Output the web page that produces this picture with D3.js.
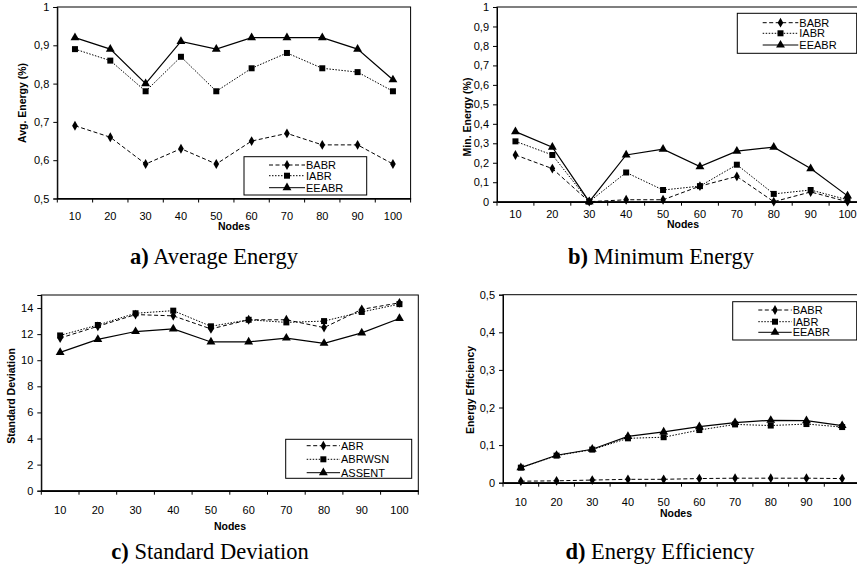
<!DOCTYPE html>
<html>
<head>
<meta charset="utf-8">
<script src="https://cdn.jsdelivr.net/npm/d3@7"></script>
<style>
  body { margin: 0; background: #fff; }
  svg { display: block; }
  .tick text { font-family: "Liberation Sans", Arial, sans-serif; }
</style>
</head>
<body>
<div id="chart"></div>
<script>
// node counts on every x axis
var nodes = ["10", "20", "30", "40", "50", "60", "70", "80", "90", "100"];

// a) Average Energy
var avgBABR  = [0.69, 0.66, 0.59, 0.63, 0.59, 0.65, 0.67, 0.64, 0.64, 0.59];
var avgIABR  = [0.89, 0.86, 0.78, 0.87, 0.78, 0.84, 0.88, 0.84, 0.83, 0.78];
var avgEEABR = [0.92, 0.89, 0.80, 0.91, 0.89, 0.92, 0.92, 0.92, 0.89, 0.81];

// b) Minimum Energy
var minBABR  = [0.24, 0.17, 0, 0.01, 0.01, 0.08, 0.13, 0, 0.05, 0];
var minIABR  = [0.31, 0.24, 0, 0.15, 0.06, 0.08, 0.19, 0.04, 0.06, 0.01];
var minEEABR = [0.36, 0.28, 0, 0.24, 0.27, 0.18, 0.26, 0.28, 0.17, 0.03];

// c) Standard Deviation
var sdABR    = [11.7, 12.6, 13.5, 13.4, 12.4, 13.1, 13.1, 12.5, 13.9, 14.4];
var sdABRWSN = [11.9, 12.7, 13.6, 13.8, 12.6, 13.1, 12.9, 13.0, 13.7, 14.3];
var sdASSENT = [10.6, 11.6, 12.2, 12.4, 11.4, 11.4, 11.7, 11.3, 12.1, 13.2];

// d) Energy Efficiency
var effBABR  = [0.004, 0.005, 0.007, 0.009, 0.009, 0.011, 0.012, 0.012, 0.012, 0.011];
var effIABR  = [0.040, 0.072, 0.088, 0.118, 0.121, 0.140, 0.155, 0.152, 0.156, 0.148];
var effEEABR = [0.040, 0.073, 0.089, 0.123, 0.135, 0.149, 0.160, 0.166, 0.165, 0.152];

var ticksA = [0.5, 0.6, 0.7, 0.8, 0.9, 1];
var ticksB = [0, 0.1, 0.2, 0.3, 0.4, 0.5, 0.6, 0.7, 0.8, 0.9, 1];
var ticksC = [0, 2, 4, 6, 8, 10, 12, 14];
var ticksD = [0, 0.1, 0.2, 0.3, 0.4, 0.5];

var svg = d3.select("#chart")
  .append("svg")
  .attr("width", 857)
  .attr("height", 569);

var styles = [
  { dash: "4,2.5", symbol: d3.symbolDiamond, size: 28 },
  { dash: "1.5,1.5", symbol: d3.symbolSquare, size: 36 },
  { dash: null, symbol: d3.symbolTriangle, size: 34 }
];

function commaFormat(d) {
  return String(+d.toFixed(1)).replace(".", ",");
}

function drawPanel(p) {
  var width = p.right - p.left;
  var height = p.bottom - p.top;

  var g = svg.append("g")
    .attr("transform", `translate(${p.left}, ${p.top})`);

  var x = d3.scaleBand()
    .domain(nodes)
    .range([0, width]);

  var y = d3.scaleLinear()
    .domain(p.domain)
    .range([height, 0]);

  // frame
  g.append("rect")
    .attr("width", width)
    .attr("height", height)
    .attr("fill", "none")
    .attr("stroke", "#000")
    .attr("stroke-width", 1);

  // y axis
  var yAxis = g.append("g")
    .call(d3.axisLeft(y).tickValues(p.ticks).tickFormat(p.format).tickSize(4).tickPadding(4));
  yAxis.select(".domain").attr("stroke", "#000");
  yAxis.selectAll("text").attr("font-size", "11px").attr("fill", "#000");

  // x axis, ticks at the band edges
  var xAxis = g.append("g")
    .attr("transform", `translate(0, ${height})`)
    .call(d3.axisBottom(x).tickSize(0).tickPadding(p.labelGap));
  xAxis.select(".domain").attr("stroke-width", 1.5);
  xAxis.selectAll("text").attr("font-size", "11px").attr("fill", "#000");

  xAxis.selectAll(".edge")
    .data(nodes.concat(["end"]))
    .enter()
    .append("line")
    .attr("x1", (d, i) => i * x.bandwidth())
    .attr("x2", (d, i) => i * x.bandwidth())
    .attr("y1", 0)
    .attr("y2", 4)
    .attr("stroke", "#000");

  // series
  var line = d3.line()
    .x((d, i) => x(nodes[i]) + x.bandwidth() / 2)
    .y(d => y(d));

  p.series.forEach(function(values, k) {
    var st = styles[k];
    g.append("path")
      .datum(values)
      .attr("d", line)
      .attr("fill", "none")
      .attr("stroke", "#000")
      .attr("stroke-width", k == 2 ? 1.2 : 1)
      .attr("stroke-dasharray", st.dash);

    g.selectAll(".m" + k)
      .data(values)
      .enter()
      .append("path")
      .attr("class", "m" + k)
      .attr("d", d3.symbol().type(st.symbol).size(st.size))
      .attr("transform", (d, i) => `translate(${x(nodes[i]) + x.bandwidth() / 2}, ${y(d)})`)
      .attr("fill", "#000");
  });

  // legend
  var lg = svg.append("g")
    .attr("transform", `translate(${p.legend.x}, ${p.legend.y})`);
  lg.append("rect")
    .attr("width", p.legend.w)
    .attr("height", p.legend.h)
    .attr("fill", "#fff")
    .attr("stroke", "#000");

  p.names.forEach(function(name, k) {
    var st = styles[k];
    var ly = p.legend.rows[k];
    lg.append("line")
      .attr("x1", p.legend.x1)
      .attr("x2", p.legend.x2)
      .attr("y1", ly)
      .attr("y2", ly)
      .attr("stroke", "#000")
      .attr("stroke-dasharray", st.dash);
    lg.append("path")
      .attr("d", d3.symbol().type(st.symbol).size(st.size))
      .attr("transform", `translate(${(p.legend.x1 + p.legend.x2) / 2}, ${ly})`)
      .attr("fill", "#000");
    lg.append("text")
      .attr("x", p.legend.x2 + 1)
      .attr("y", ly + 4)
      .attr("font-family", "Liberation Sans, Arial, sans-serif")
      .attr("font-size", "11px")
      .text(name);
  });

  // axis labels
  svg.append("text")
    .attr("transform", `translate(${p.yLabel.x}, ${p.yLabel.y}) rotate(-90)`)
    .attr("text-anchor", "middle")
    .attr("font-family", "Liberation Sans, Arial, sans-serif")
    .attr("font-weight", "bold")
    .attr("font-size", "10.5px")
    .text(p.yLabel.text);

  svg.append("text")
    .attr("x", p.xLabel.x)
    .attr("y", p.xLabel.y)
    .attr("text-anchor", "middle")
    .attr("font-family", "Liberation Sans, Arial, sans-serif")
    .attr("font-weight", "bold")
    .attr("font-size", "10.5px")
    .text("Nodes");

  // caption
  var cap = svg.append("text")
    .attr("x", p.caption.x)
    .attr("y", p.caption.y)
    .attr("text-anchor", "middle")
    .attr("font-family", "Liberation Serif, Times New Roman, serif")
    .attr("font-size", "22.5px");
  cap.append("tspan").attr("font-weight", "bold").text(p.caption.tag);
  cap.append("tspan").text(" " + p.caption.text);
}

drawPanel({
  left: 57.3, right: 410.6, top: 7, bottom: 198.5,
  domain: [0.5, 1], ticks: ticksA, format: commaFormat, labelGap: 14,
  series: [avgBABR, avgIABR, avgEEABR], names: ["BABR", "IABR", "EEABR"],
  legend: { x: 244, y: 156.7, w: 122.7, h: 38.3, x1: 25, x2: 61, rows: [8.3, 19, 31] },
  yLabel: { x: 25.5, y: 103, text: "Avg. Energy (%)" },
  xLabel: { x: 234, y: 230 },
  caption: { x: 214, y: 264, tag: "a)", text: "Average Energy" }
});

drawPanel({
  left: 497, right: 866, top: 7, bottom: 201.7,
  domain: [0, 1], ticks: ticksB, format: commaFormat, labelGap: 9,
  series: [minBABR, minIABR, minEEABR], names: ["BABR", "IABR", "EEABR"],
  legend: { x: 737.3, y: 13.3, w: 119.4, h: 40, x1: 25.4, x2: 61, rows: [9.4, 20, 31.7] },
  yLabel: { x: 470.5, y: 117, text: "Min. Energy (%)" },
  xLabel: { x: 683, y: 228 },
  caption: { x: 661, y: 264, tag: "b)", text: "Minimum Energy" }
});

drawPanel({
  left: 41.3, right: 418.3, top: 295, bottom: 490.7,
  domain: [0, 15], ticks: ticksC, format: d3.format("d"), labelGap: 16,
  series: [sdABR, sdABRWSN, sdASSENT], names: ["ABR", "ABRWSN", "ASSENT"],
  legend: { x: 285.7, y: 439.3, w: 126, h: 39, x1: 21, x2: 54.3, rows: [6.4, 20, 33.4] },
  yLabel: { x: 14.5, y: 396, text: "Standard Deviation" },
  xLabel: { x: 230, y: 530 },
  caption: { x: 210, y: 559, tag: "c)", text: "Standard Deviation" }
});

drawPanel({
  left: 503, right: 860, top: 294.7, bottom: 482.7,
  domain: [0, 0.5], ticks: ticksD, format: commaFormat, labelGap: 16,
  series: [effBABR, effIABR, effEEABR], names: ["BABR", "IABR", "EEABR"],
  legend: { x: 732.7, y: 301.7, w: 124, h: 38.3, x1: 25.6, x2: 59, rows: [8.3, 20, 30.6] },
  yLabel: { x: 474, y: 390, text: "Energy Efficiency" },
  xLabel: { x: 676, y: 517 },
  caption: { x: 660, y: 559, tag: "d)", text: "Energy Efficiency" }
});
</script>
</body>
</html>
